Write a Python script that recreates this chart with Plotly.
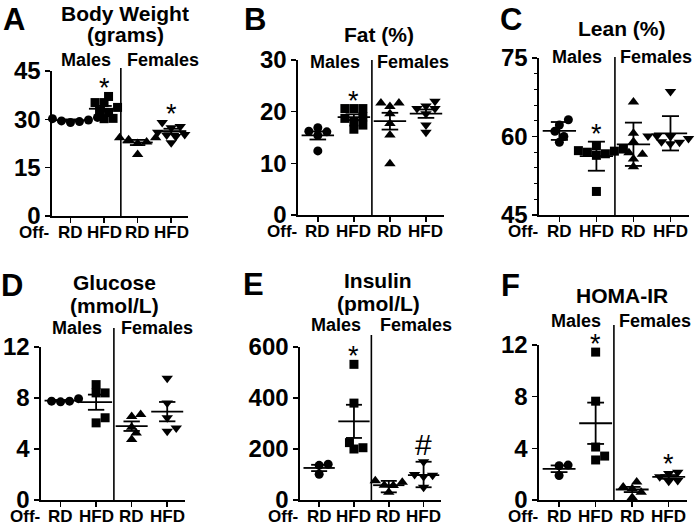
import numpy as np
import plotly.graph_objects as go

W, H = 700, 525
FONT = "Liberation Sans, Arial, sans-serif"

# ---------------- data ----------------
group_labels = ["RD", "HFD", "RD", "HFD"]
group_symbols = ["circle", "square", "triangle-up", "triangle-down"]

# A  Body weight (grams)
bw_m_rd = [29.3, 30.2, 29.0, 30.6, 29.8, 29.5]
bw_m_hfd = [37.1, 35.2, 35.2, 33.7, 32.5, 32.1, 30.2, 30.3]
bw_f_rd = [24.3, 23.7, 23.0, 22.5, 24.3, 19.1]
bw_f_hfd = [29.2, 29.0, 27.4, 27.8, 25.3, 26.0, 25.1, 24.7, 22.7]

# B  Fat (%)
fat_m_rd = [16.2, 16.9, 16.1, 15.4, 12.4]
fat_m_hfd = [20.6, 20.6, 20.6, 19.0, 18.7, 17.4, 18.0, 16.6]
fat_f_rd = [21.0, 21.7, 21.7, 19.6, 17.7, 15.5, 9.9]
fat_f_hfd = [20.6, 22.0, 21.1, 20.6, 19.6, 16.0, 17.4]

# C  Lean (%)
lean_m_rd = [63.2, 61.0, 58.9, 62.2, 60.0]
lean_m_hfd = [58.2, 57.2, 57.0, 57.6, 56.4, 56.7, 57.3, 49.5]
lean_f_rd = [66.6, 60.6, 59.0, 56.9, 56.6, 55.7, 54.2]
lean_f_hfd = [68.6, 60.1, 60.0, 59.6, 60.1, 58.9, 58.6, 59.0]

# D  Glucose (mmol/L)
glu_m_rd = [7.75, 7.95, 7.75, 7.7]
glu_m_hfd = [9.05, 8.4, 8.4, 6.45, 6.05]
glu_f_rd = [6.55, 6.7, 5.7, 5.25, 4.75]
glu_f_hfd = [9.55, 7.6, 6.45, 5.4, 5.65]

# E  Insulin (pmol/L)
ins_m_rd = [140, 136, 101]
ins_m_hfd = [532, 380, 225, 200, 205]
ins_f_rd = [70, 75, 58, 57, 30]
ins_f_hfd = [150, 100, 97, 92, 50]

# F  HOMA-IR
homa_m_rd = [2.65, 2.7, 1.9]
homa_m_hfd = [11.45, 7.65, 4.1, 3.1, 3.4]
homa_f_rd = [1.0, 0.87, 1.4, 0.6, 0.2]
homa_f_hfd = [2.15, 2.05, 1.45, 1.8, 1.5]

# ---------------- panel setup ----------------
panels = [
    dict(letter="A", title=["Body Weight", "(grams)"],
         data=[bw_m_rd, bw_m_hfd, bw_f_rd, bw_f_hfd], err=["sem"] * 4,
         yr=[0, 45], yt=[0, 15, 30, 45], minor=None, sig=[(1, "*"), (3, "*")],
         px=(52, 188, 71, 216), title_xy=(125, [13, 34]), sex_y=60, div_top=68,
         letter_xy=(14, 19), fem_x=3.75),
    dict(letter="B", title=["Fat (%)"],
         data=[fat_m_rd, fat_m_hfd, fat_f_rd, fat_f_hfd], err=["sem"] * 4,
         yr=[0, 30], yt=[0, 10, 20, 30], minor=None, sig=[(1, "*")],
         px=(298, 444, 60, 215), title_xy=(379, [35]), sex_y=62, div_top=60,
         letter_xy=(255, 19), fem_x=3.65),
    dict(letter="C", title=["Lean (%)"],
         data=[lean_m_rd, lean_m_hfd, lean_f_rd, lean_f_hfd], err=["sd"] * 4,
         yr=[45, 75], yt=[45, 60, 75], minor=3, sig=[(1, "*")],
         px=(539, 689, 58, 215), title_xy=(622, [28]), sex_y=57, div_top=57,
         letter_xy=(511, 19), fem_x=3.62),
    dict(letter="D", title=["Glucose", "(mmol/L)"],
         data=[glu_m_rd, glu_m_hfd, glu_f_rd, glu_f_hfd], err=["sem"] * 4,
         yr=[0, 12], yt=[0, 4, 8, 12], minor=None, sig=[],
         px=(41, 185, 347, 500), title_xy=(114, [282, 305]), sex_y=328, div_top=328,
         letter_xy=(12, 285), fem_x=3.72),
    dict(letter="E", title=["Insulin", "(pmol/L)"],
         data=[ins_m_rd, ins_m_hfd, ins_f_rd, ins_f_hfd],
         err=["sem", "sem", "range", "range"],
         yr=[0, 600], yt=[0, 200, 400, 600], minor=None, sig=[(1, "*"), (3, "#")],
         px=(300, 441, 347, 500), title_xy=(378, [280, 303]), sex_y=325, div_top=335,
         letter_xy=(253, 284), fem_x=3.78),
    dict(letter="F", title=["HOMA-IR"],
         data=[homa_m_rd, homa_m_hfd, homa_f_rd, homa_f_hfd], err=["sem"] * 4,
         yr=[0, 12], yt=[0, 4, 8, 12], minor=None, sig=[(1, "*"), (3, "*")],
         px=(539, 687, 345, 500), title_xy=(622, [295]), sex_y=321, div_top=325,
         letter_xy=(510, 285), fem_x=3.62),
]

XR = [0.45, 4.5]
MEAN_HW, CAP_HW = 0.45, 0.23
XLAB_SHIFT = -16   # x category labels below the axis (pixels)


def swarm(vals, xscale, yscale, d=9.0):
    placed, offs = [], [0.0] * len(vals)
    order = sorted(range(len(vals)), key=lambda i: vals[i])
    cands = [0.0]
    for s in range(1, 30):
        cands += [s * d * 0.5, -s * d * 0.5]
    for i in order:
        y = vals[i] * yscale
        for c in cands:
            if all((c - a) ** 2 + (y - b) ** 2 >= (d * 0.8) ** 2 for a, b in placed):
                break
        placed.append((c, y))
        offs[i] = c / xscale
    return offs


def err_limits(vals, kind):
    v = np.asarray(vals, float)
    m = v.mean()
    if kind == "sem":
        e = v.std(ddof=1) / np.sqrt(len(v))
        return m, m - e, m + e
    if kind == "sd":
        e = v.std(ddof=1)
        return m, m - e, m + e
    return m, v.min(), v.max()


fig = go.Figure()
layout = dict(template="none", width=W, height=H,
              margin=dict(l=0, r=0, t=0, b=0, pad=0), autosize=False,
              paper_bgcolor="white", plot_bgcolor="white", showlegend=False,
              shapes=[], annotations=[])

bold = dict(family=FONT, color="black", weight="bold")

for k, p in enumerate(panels, start=1):
    xl, xr, yt_px, yb_px = p["px"]
    sfx = "" if k == 1 else str(k)
    xa, ya = "x" + sfx, "y" + sfx
    xscale = (xr - xl) / (XR[1] - XR[0])
    yscale = (yb_px - yt_px) / (p["yr"][1] - p["yr"][0])

    layout["xaxis" + sfx] = dict(
        domain=[xl / W, xr / W], range=XR, anchor=ya, automargin=False,
        tickvals=[1, 2, 3, 4], showticklabels=False,
        ticks="outside", ticklen=5, tickwidth=1.5, tickcolor="black",
        showline=True, linewidth=1.6, linecolor="black",
        showgrid=False, zeroline=False, fixedrange=True)
    ydict = dict(
        domain=[1 - yb_px / H, 1 - yt_px / H], range=p["yr"], anchor=xa,
        automargin=False, tickvals=p["yt"], ticks="outside", ticklen=5,
        tickwidth=1.5, tickcolor="black",
        showline=True, linewidth=1.6, linecolor="black",
        showgrid=False, zeroline=False, fixedrange=True,
        tickfont=dict(size=24, **bold))
    if p["minor"]:
        ydict["minor"] = dict(dtick=p["minor"], tick0=p["yr"][0], ticks="outside",
                              ticklen=3, tickwidth=1, tickcolor="black", showgrid=False)
    layout["yaxis" + sfx] = ydict

    # category labels (as text under the axis) and the "Off-" prefix
    for g, lab in enumerate(group_labels):
        layout["annotations"].append(dict(
            text=lab, xref=xa, yref=ya + " domain", x=g + 1, y=0, yshift=XLAB_SHIFT,
            showarrow=False, xanchor="center", yanchor="middle",
            font=dict(size=17, **bold)))
    layout["annotations"].append(dict(
        text="Off-", xref=xa, yref=ya + " domain", x=1, y=0, xshift=-19,
        yshift=XLAB_SHIFT, showarrow=False, xanchor="right", yanchor="middle",
        font=dict(size=17, **bold)))

    tops = []
    for g, vals in enumerate(p["data"]):
        xc = g + 1
        offs = swarm(vals, xscale, yscale)
        fig.add_trace(go.Scatter(
            x=[xc + o for o in offs], y=vals, mode="markers", xaxis=xa, yaxis=ya,
            cliponaxis=False,
            marker=dict(symbol=group_symbols[g], color="black",
                        size=9 if g < 2 else 10, line=dict(width=0))))
        m, lo, hi = err_limits(vals, p["err"][g])
        tops.append(max(max(vals), hi))
        fig.add_trace(go.Scatter(
            x=[xc - MEAN_HW, xc + MEAN_HW, None, xc - CAP_HW, xc + CAP_HW, None,
               xc - CAP_HW, xc + CAP_HW, None, xc, xc],
            y=[m, m, None, hi, hi, None, lo, lo, None, lo, hi],
            mode="lines", xaxis=xa, yaxis=ya, cliponaxis=False,
            line=dict(color="black", width=1.8), hoverinfo="skip"))

    # divider between sexes
    layout["shapes"].append(dict(
        type="line", xref=xa, yref="paper", x0=2.5, x1=2.5,
        y0=1 - yb_px / H, y1=1 - p["div_top"] / H,
        line=dict(color="black", width=1.6)))

    # significance markers
    for g, s in p["sig"]:
        layout["annotations"].append(dict(
            text=s, xref=xa, yref=ya, x=g + 1, y=tops[g], showarrow=False,
            yanchor="middle", yshift=8 if s == "*" else 17,
            font=dict(family=FONT, size=27 if s == "*" else 30, color="black")))

    # Males / Females
    for xv, t in [(1.47, "Males"), (p["fem_x"], "Females")]:
        layout["annotations"].append(dict(
            text=t, xref=xa, yref="paper", x=xv, y=1 - p["sex_y"] / H,
            showarrow=False, xanchor="center", yanchor="middle",
            font=dict(size=18, **bold)))

    # titles
    tx, tys = p["title_xy"]
    for line, ty in zip(p["title"], tys):
        layout["annotations"].append(dict(
            text=line, xref="paper", yref="paper", x=tx / W, y=1 - ty / H,
            showarrow=False, xanchor="center", yanchor="middle",
            font=dict(size=21, **bold)))

    # panel letter
    lx, ly = p["letter_xy"]
    layout["annotations"].append(dict(
        text=p["letter"], xref="paper", yref="paper", x=lx / W, y=1 - ly / H,
        showarrow=False, xanchor="center", yanchor="middle",
        font=dict(size=31, **bold)))

fig.update_layout(**layout)
fig.write_html("out.html",
               config={"displayModeBar": False, "staticPlot": True},
               post_script="document.body.style.margin='0';"
                           "document.body.style.overflow='hidden';")
